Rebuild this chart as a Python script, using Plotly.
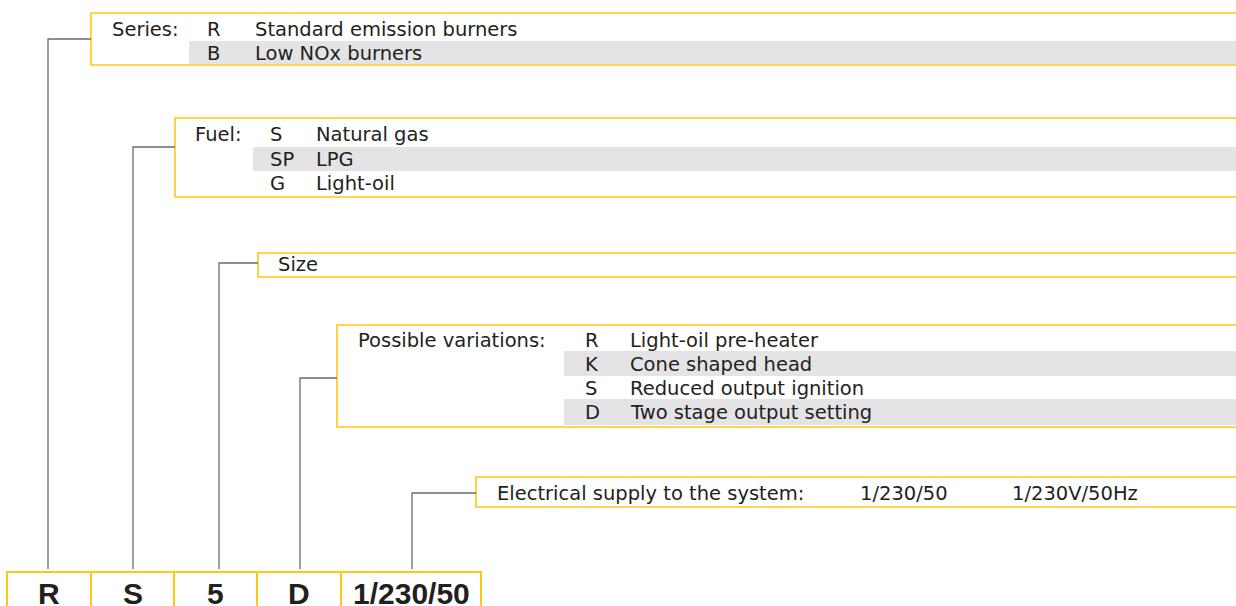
import plotly.graph_objects as go

# ---------------- data (texts of the designation diagram) ----------------
group_titles = ["Series:", "Fuel:", "Size", "Possible variations:", "Electrical supply to the system:"]
series_codes = ["R", "B"]
series_desc = ["Standard emission burners", "Low NOx burners"]
fuel_codes = ["S", "SP", "G"]
fuel_desc = ["Natural gas", "LPG", "Light-oil"]
size_codes = []
size_desc = []
variation_codes = ["R", "K", "S", "D"]
variation_desc = ["Light-oil pre-heater", "Cone shaped head", "Reduced output ignition", "Two stage output setting"]
supply_codes = ["1/230/50"]
supply_desc = ["1/230V/50Hz"]
model_parts = ["R", "S", "5", "D", "1/230/50"]

# ---------------- layout geometry (pixels, y downward) ----------------
W, H = 1236, 606
YELLOW = "#FFC814"
GREY_LINE = "#6b6b6b"
BAND = "#E4E4E6"
TXT = "#231f20"
FONT = "DejaVu Sans"
FS = 19.5

groups = [
    dict(codes=series_codes, desc=series_desc, left=91, top=13, bottom=65, title_x=110,
         code_x=205, desc_x=253, row_y=[29, 53], band_x=189, bands=[(41, 64)], conn_y=39, vx=48),
    dict(codes=fuel_codes, desc=fuel_desc, left=175, top=118, bottom=197, title_x=193,
         code_x=268, desc_x=314, row_y=[134, 159, 183], band_x=253, bands=[(147, 171)], conn_y=147, vx=133),
    dict(codes=size_codes, desc=size_desc, left=258, top=253, bottom=277, title_x=276,
         code_x=0, desc_x=0, row_y=[264], band_x=0, bands=[], conn_y=263, vx=219),
    dict(codes=variation_codes, desc=variation_desc, left=337, top=325, bottom=427, title_x=356,
         code_x=583, desc_x=628, row_y=[340, 364, 388, 412], band_x=564, bands=[(351, 376), (399, 425)],
         conn_y=378, vx=300),
    dict(codes=supply_codes, desc=supply_desc, left=476, top=477, bottom=507, title_x=495,
         code_x=858, desc_x=1010, row_y=[493], band_x=0, bands=[], conn_y=493, vx=412),
]
conn_bottom = 569
cell_edges = [7, 91, 174, 257, 341, 481]
cell_top = 572
cell_text_y = 593

shapes = []
annotations = []

def ann(x, y, text, size=FS, anchor="left", bold=False):
    annotations.append(dict(
        x=x, y=y, xref="x", yref="y", text=text, showarrow=False,
        xanchor=anchor, yanchor="middle",
        font=dict(family="Liberation Sans" if bold else FONT, size=size, color=TXT,
                  weight="bold" if bold else "normal"),
    ))

for title, g in zip(group_titles, groups):
    # grey bands
    for (y0, y1) in g["bands"]:
        shapes.append(dict(type="rect", xref="x", yref="y", x0=g["band_x"], x1=W + 10, y0=y0, y1=y1,
                           fillcolor=BAND, line=dict(width=0), layer="below"))
    # yellow box
    shapes.append(dict(type="rect", xref="x", yref="y", x0=g["left"], x1=W + 10, y0=g["top"], y1=g["bottom"],
                       line=dict(color=YELLOW, width=1.6), fillcolor="rgba(0,0,0,0)"))
    # connector
    shapes.append(dict(type="path", xref="x", yref="y",
                       path=f"M {g['left']} {g['conn_y']} L {g['vx']} {g['conn_y']} L {g['vx']} {conn_bottom}",
                       line=dict(color=GREY_LINE, width=1.3)))
    # texts
    ann(g["title_x"], g["row_y"][0], title)
    for code, desc, y in zip(g["codes"], g["desc"], g["row_y"]):
        ann(g["code_x"], y, code)
        ann(g["desc_x"], y, desc)

# bottom model designation cells
for i, part in enumerate(model_parts):
    x0, x1 = cell_edges[i], cell_edges[i + 1]
    shapes.append(dict(type="rect", xref="x", yref="y", x0=x0, x1=x1, y0=cell_top, y1=H + 20,
                       line=dict(color=YELLOW, width=2), fillcolor="rgba(0,0,0,0)"))
    ann((x0 + x1) / 2, cell_text_y, part, size=30, anchor="center", bold=True)

fig = go.Figure()
fig.add_trace(go.Scatter(x=[0, W], y=[0, H], mode="markers", marker=dict(opacity=0), hoverinfo="skip",
                         showlegend=False))
fig.update_layout(
    width=W, height=H, margin=dict(l=0, r=0, t=0, b=0),
    paper_bgcolor="white", plot_bgcolor="white",
    xaxis=dict(range=[0, W], visible=False, fixedrange=True),
    yaxis=dict(range=[H, 0], visible=False, fixedrange=True),
    shapes=shapes, annotations=annotations, showlegend=False,
)
fig.write_html(
    "out.html",
    config=dict(displayModeBar=False),
    post_script="document.body.style.margin='0';document.body.style.overflow='hidden';",
)
